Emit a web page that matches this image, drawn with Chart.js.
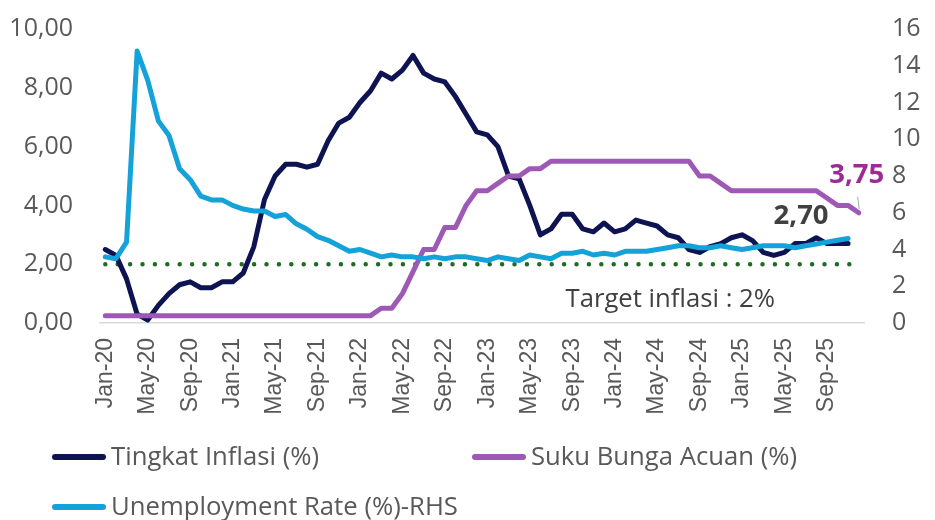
<!DOCTYPE html>
<html><head><meta charset="utf-8">
<script src="https://cdn.jsdelivr.net/npm/chart.js@4.4.1/dist/chart.umd.min.js"></script>
<style>
html,body{margin:0;padding:0;background:#fff;}
#wrap{position:relative;width:935px;height:520px;overflow:hidden;}
canvas{position:absolute;left:0;top:0;}
.lg{position:absolute;font-family:'Open Sans',sans-serif;font-size:25.7px;color:#595959;line-height:30px;white-space:nowrap;}
.sw{position:absolute;height:6px;border-radius:3px;}
</style></head><body>
<div id="wrap"><canvas id="c" width="935" height="520"></canvas><div id="legend"></div></div>
<script>
// ---- data ----
const MONTHS = ['Jan','Feb','Mar','Apr','May','Jun','Jul','Aug','Sep','Oct','Nov','Dec'];
const YEARS = ['20','21','22','23','24','25'];
const categories = YEARS.flatMap(y => MONTHS.map(m => m + '-' + y));

const SERIES_NAMES = ['Tingkat Inflasi (%)', 'Suku Bunga Acuan (%)', 'Unemployment Rate (%)-RHS'];

const inflasi = [
  2.5, 2.3, 1.5, 0.3, 0.1, 0.6, 1.0, 1.3, 1.4, 1.2, 1.2, 1.4,
  1.4, 1.7, 2.6, 4.2, 5.0, 5.4, 5.4, 5.3, 5.4, 6.2, 6.8, 7.0,
  7.5, 7.9, 8.5, 8.3, 8.6, 9.1, 8.5, 8.3, 8.2, 7.7, 7.1, 6.5,
  6.4, 6.0, 5.0, 4.9, 4.0, 3.0, 3.2, 3.7, 3.7, 3.2, 3.1, 3.4,
  3.1, 3.2, 3.5, 3.4, 3.3, 3.0, 2.9, 2.5, 2.4, 2.6, 2.7, 2.9,
  3.0, 2.8, 2.4, 2.3, 2.4, 2.7, 2.7, 2.9, 2.7, 2.7, 2.7
];
const sukuBunga = [
  0.25, 0.25, 0.25, 0.25, 0.25, 0.25, 0.25, 0.25, 0.25, 0.25, 0.25, 0.25,
  0.25, 0.25, 0.25, 0.25, 0.25, 0.25, 0.25, 0.25, 0.25, 0.25, 0.25, 0.25,
  0.25, 0.25, 0.5, 0.5, 1.0, 1.75, 2.5, 2.5, 3.25, 3.25, 4.0, 4.5,
  4.5, 4.75, 5.0, 5.0, 5.25, 5.25, 5.5, 5.5, 5.5, 5.5, 5.5, 5.5,
  5.5, 5.5, 5.5, 5.5, 5.5, 5.5, 5.5, 5.5, 5.0, 5.0, 4.75, 4.5,
  4.5, 4.5, 4.5, 4.5, 4.5, 4.5, 4.5, 4.5, 4.25, 4.0, 4.0, 3.75
];
const unemployment = [
  3.6, 3.5, 4.4, 14.8, 13.2, 11.0, 10.2, 8.4, 7.8, 6.9, 6.7, 6.7,
  6.4, 6.2, 6.1, 6.1, 5.8, 5.9, 5.4, 5.1, 4.7, 4.5, 4.2, 3.9,
  4.0, 3.8, 3.6, 3.7, 3.6, 3.6, 3.5, 3.6, 3.5, 3.6, 3.6, 3.5,
  3.4, 3.6, 3.5, 3.4, 3.7, 3.6, 3.5, 3.8, 3.8, 3.9, 3.7, 3.8,
  3.7, 3.9, 3.9, 3.9, 4.0, 4.1, 4.2, 4.2, 4.1, 4.1, 4.2, 4.1,
  4.0, 4.1, 4.2, 4.2, 4.2, 4.1, 4.2, 4.3, 4.4, 4.5, 4.6
];
const TARGET = 2;
const TARGET_LABEL = 'Target inflasi : 2%';
const LEFT_TICKS = {min: 0, max: 10, step: 2};
const RIGHT_TICKS = {min: 0, max: 16, step: 2};

// ---- styles ----
const COLORS = ['#0e1452', '#9e58b5', '#14a2d8'];
const fmt = v => Number(v).toFixed(2).replace('.', ',');

const annot = {
  id: 'annot',
  beforeDatasetsDraw(chart) {
    const {ctx, scales: {x, y}, chartArea} = chart;
    const yy = y.getPixelForValue(TARGET);
    const x0 = x.getPixelForValue(0), x1 = x.getPixelForValue(categories.length - 1);
    ctx.save();
    ctx.strokeStyle = '#1e6b22'; ctx.lineWidth = 4.5; ctx.lineCap = 'round';
    ctx.setLineDash([0, 12.4]);
    ctx.beginPath(); ctx.moveTo(x0, yy); ctx.lineTo(x1, yy); ctx.stroke();
    ctx.restore();
    ctx.save();
    ctx.font = '25.7px "Open Sans"'; ctx.fillStyle = '#404040';
    ctx.textAlign = 'right'; ctx.textBaseline = 'alphabetic';
    ctx.fillText(TARGET_LABEL, chartArea.right - 89, yy + 43);
    ctx.restore();
  },
  afterDatasetsDraw(chart) {
    const {ctx, scales: {x, y}} = chart;
    const iP = sukuBunga.length - 1;
    const px = x.getPixelForValue(iP), py = y.getPixelForValue(sukuBunga[iP]);
    ctx.save();
    ctx.strokeStyle = '#a6a6a6'; ctx.lineWidth = 1;
    ctx.beginPath(); ctx.moveTo(px - 1, py - 16); ctx.lineTo(px + 0.5, py - 4); ctx.stroke();
    ctx.font = 'bold 27.5px "Open Sans"'; ctx.textAlign = 'center'; ctx.textBaseline = 'alphabetic';
    ctx.fillStyle = '#9c2b95';
    ctx.fillText(fmt(sukuBunga[iP]), px - 2, py - 30);
    const iI = inflasi.length - 1;
    const ix = x.getPixelForValue(iI), iy = y.getPixelForValue(inflasi[iI]);
    ctx.fillStyle = '#404040';
    ctx.fillText(fmt(inflasi[iI]), ix - 47, iy - 20);
    ctx.restore();
  }
};

const ds = (label, data, color, axis, order) => ({
  label, data, borderColor: color, backgroundColor: color, borderWidth: 5,
  yAxisID: axis, order, pointRadius: 0, pointHoverRadius: 0, tension: 0,
  borderJoinStyle: 'round', borderCapStyle: 'round', fill: false
});

const fixV = w => s => { s.width = w; s.paddingTop = 0; s.paddingBottom = 0; };

new Chart(document.getElementById('c'), {
  type: 'line',
  data: {
    labels: categories,
    datasets: [
      ds(SERIES_NAMES[0], inflasi, COLORS[0], 'y', 2),
      ds(SERIES_NAMES[1], sukuBunga, COLORS[1], 'y', 1),
      ds(SERIES_NAMES[2], unemployment, COLORS[2], 'y1', 0)
    ]
  },
  options: {
    responsive: false, animation: false,
    layout: {autoPadding: false, padding: {top: 29, left: 0, right: 0, bottom: 0}},
    plugins: {legend: {display: false}, tooltip: {enabled: false}},
    scales: {
      x: {
        type: 'category', offset: true,
        grid: {display: false, drawTicks: false},
        border: {display: true, color: '#d9d9d9', width: 1.5},
        ticks: {
          autoSkip: false, maxRotation: 90, minRotation: 90, padding: 15,
          color: '#595959', font: {family: 'Liberation Sans', size: 23},
          callback: (v, i) => (i % 4 === 0 ? categories[i] : '')
        },
        afterFit: s => { s.height = 197; s.paddingLeft = 0; s.paddingRight = 0; }
      },
      y: {
        position: 'left', min: LEFT_TICKS.min, max: LEFT_TICKS.max,
        grid: {display: false, drawTicks: false}, border: {display: false},
        ticks: {stepSize: LEFT_TICKS.step, padding: 27, color: '#595959',
          font: {family: 'Open Sans', size: 25}, callback: v => fmt(v)},
        afterFit: fixV(100)
      },
      y1: {
        position: 'right', min: RIGHT_TICKS.min, max: RIGHT_TICKS.max,
        grid: {display: false, drawTicks: false}, border: {display: false},
        ticks: {stepSize: RIGHT_TICKS.step, padding: 28, color: '#595959',
          font: {family: 'Open Sans', size: 25}},
        afterFit: fixV(71)
      }
    }
  },
  plugins: [annot]
});

// ---- HTML legend ----
const LEG_POS = [[52, 457], [472, 457], [52, 507]];
const leg = document.getElementById('legend');
SERIES_NAMES.forEach((name, i) => {
  const [lx, ly] = LEG_POS[i];
  const sw = document.createElement('div');
  sw.className = 'sw';
  sw.style.cssText = `left:${lx}px;top:${ly - 3}px;width:54px;background:${COLORS[i]};`;
  const t = document.createElement('div');
  t.className = 'lg';
  t.style.cssText = `left:${lx + 59}px;top:${ly - 16}px;`;
  t.textContent = name;
  leg.appendChild(sw); leg.appendChild(t);
});
</script>
</body></html>
